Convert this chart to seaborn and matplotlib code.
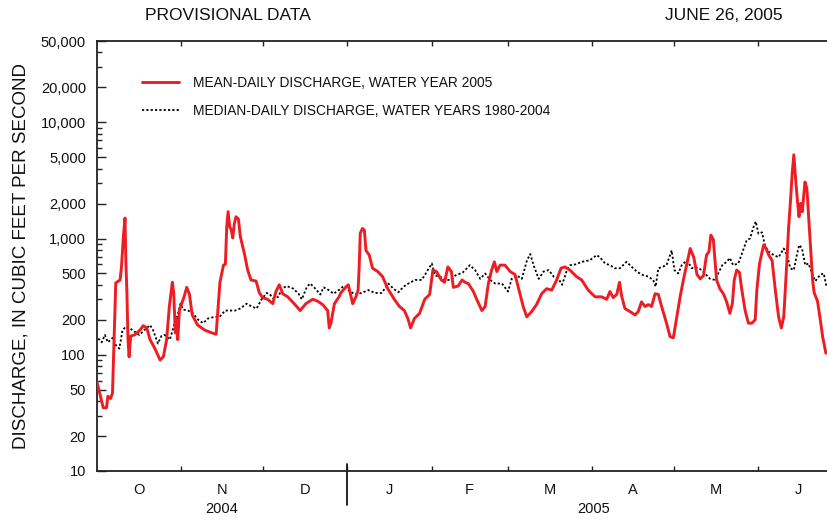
import matplotlib
matplotlib.use("Agg")
import matplotlib.pyplot as plt
import matplotlib.ticker as mticker
from matplotlib.lines import Line2D
import numpy as np
import pandas as pd
import seaborn as sns

# ---------------- data (days after 1 Oct 2004, discharge in cfs) ----------------
red_days = [0, 2.3, 3.5, 4, 5, 5.7, 6.9, 8.5, 9.0, 9.7, 10.3, 10.6, 11.0, 11.4, 11.8, 12.4,
            13.8, 15.8, 17.0, 18.3, 19.5, 21.3, 23.2, 24.4, 25.6, 26.6, 27.7, 28.2, 28.8, 29.1,
            29.7, 30.3, 32.0, 33.0, 34.0, 35.0, 37.0, 39.6, 42.0, 43.8, 45.2, 46.5, 47.2, 47.7,
            48.2, 48.8, 49.4, 49.9, 50.5, 51.1, 52.0, 52.7, 54.2, 55.4, 56.6, 58.5, 59.7, 60.9,
            62.7, 64.6, 65.8, 67.0, 68.3, 70.1, 72.5, 74.7, 76.8, 79.3, 81.0, 83.0, 84.8, 85.4,
            86.0, 87.3, 89.0, 89.6, 91.6, 92.4, 93.4, 94.0, 95.2, 96.0, 96.4, 96.8, 97.6, 98.3,
            98.9, 100.1, 101.3, 103.2, 105.0, 106.9, 109.3, 111.2, 113.0, 114.3, 115.3, 116.7,
            118.6, 120.5, 122.3, 123.5, 124.8, 126.6, 127.8, 129.0, 130.3, 131.0, 132.8, 134.2,
            135.3, 136.5, 138.4, 139.6, 141.5, 142.7, 143.9, 145.1, 146.1, 147.0, 148.2, 150.0,
            151.9, 153.7, 155.5, 156.7, 158.0, 159.8, 161.6, 163.5, 165.3, 167.2, 169.0, 170.6,
            172.0, 173.9, 176.3, 178.2, 180.6, 183.1, 185.5, 187.4, 188.6, 189.8, 191.1, 192.1,
            192.9, 194.1, 196.0, 197.8, 199.0, 200.2, 201.5, 202.7, 203.9, 205.2, 206.4, 207.6,
            209.4, 210.7, 211.9, 213.2, 214.4, 215.6, 216.9, 218.1, 219.4, 220.6, 221.8, 223.0,
            224.1, 225.0, 225.7, 226.6, 227.2, 227.8, 229.0, 230.3, 231.5, 232.7, 233.6, 234.3,
            235.2, 236.2, 237.1, 238.3, 239.5, 240.8, 242.0, 242.6, 243.6, 245.1, 246.0, 247.0,
            248.2, 249.4, 250.6, 251.6, 252.5, 253.4, 254.3, 255.0, 255.6, 256.2, 256.9, 257.5,
            258.1, 258.7, 259.3, 260.3, 261.0, 261.6, 262.4, 263.1, 263.7, 264.9, 265.8, 266.8,
            268.0]
red_vals = [58, 35, 35, 44, 42, 47, 415, 440, 570, 1040, 1500, 650, 340, 135, 96, 145,
            148, 163, 178, 170, 135, 113, 90, 96, 135, 260, 420, 340, 154, 205,
            135, 240, 315, 380, 330, 220, 180, 163, 155, 150, 420, 590, 600, 1260,
            1700, 1260, 1180, 1010, 1340, 1540, 1470, 1040, 740, 535, 440, 430, 340, 310,
            300, 275, 350, 400, 335, 315, 275, 240, 275, 300, 290, 270, 240, 170,
            187, 275, 315, 340, 385, 400, 315, 275, 315, 360, 570, 1110, 1220, 1180,
            790, 720, 555, 520, 470, 370, 300, 260, 240, 205, 170, 205,
            227, 300, 330, 535, 520, 440, 420, 570, 520, 380, 390, 440,
            420, 410, 350, 300, 240, 260, 410, 535, 630, 520, 590, 590,
            520, 490, 335, 260, 212, 235, 270, 335, 370, 360, 440, 555,
            570, 535, 470, 440, 360, 315, 315, 300, 350, 310, 330, 420,
            320, 250, 235, 220, 235, 285, 260, 270, 260, 335, 330, 260,
            187, 143, 140, 212, 315, 440, 610, 820, 690, 490, 450, 480,
            720, 770, 1070, 980, 650, 440, 370, 335, 285, 227, 275, 440,
            535, 510, 360, 240, 187, 187, 200, 360, 610, 880, 820, 720,
            650, 360, 212, 170, 212, 500, 1260, 2150, 3600, 5250, 3150, 2150,
            1540, 2000, 1700, 3060, 2700, 1600, 790, 440, 340, 290, 210, 143,
            103]

med_days = [0.5, 1.7, 2.9, 4.0, 5.8, 7.0, 8.2, 9.4, 10.7, 11.9, 13.8, 15.6, 17.4, 19.5, 20.6,
            22.4, 23.7, 24.9, 26.8, 28.6, 29.8, 30.7, 31.7, 33.5, 35.3, 37.2, 39.0, 40.8, 43.3,
            45.1, 47.1, 50.8, 52.7, 55.0, 56.9, 58.7, 60.5, 62.4, 63.6, 64.8, 66.7, 67.9, 69.8,
            72.2, 74.1, 75.3, 77.2, 78.4, 80.3, 82.1, 83.3, 85.2, 87.0, 88.9, 90.7, 92.4, 94.9,
            97.3, 99.8, 102.2, 104.7, 107.1, 109.0, 110.8, 112.7, 114.5, 117.0, 119.4, 121.3,
            123.1, 124.3, 126.2, 128.0, 129.9, 131.7, 134.5, 137.1, 139.0, 140.9, 142.7, 144.6,
            146.4, 148.9, 151.1, 152.5, 154.4, 156.2, 158.1, 159.3, 160.5, 162.4, 164.2, 166.1,
            167.9, 169.7, 171.0, 172.8, 174.0, 176.1, 178.2, 181.2, 183.7, 184.9, 186.8, 188.6,
            190.4, 192.3, 194.7, 196.6, 198.4, 200.2, 202.7, 204.5, 205.4, 206.4, 207.8, 209.4,
            210.7, 211.3, 212.3, 213.7, 215.0, 216.9, 218.7, 220.6, 222.4, 223.5, 225.4, 227.2,
            228.4, 229.9, 231.5, 232.7, 233.9, 235.8, 237.1, 238.9, 240.1, 241.4, 242.2, 243.2,
            244.5, 245.7, 247.0, 248.8, 250.6, 252.5, 253.7, 254.9, 256.2, 257.4, 258.2, 259.2,
            260.4, 261.6, 262.9, 264.1, 266.0, 267.2, 268.2]
med_vals = [138, 128, 148, 128, 140, 120, 113, 163, 175, 170, 158, 148, 163, 180, 163,
            125, 145, 148, 135, 187, 227, 275, 245, 240, 227, 200, 187, 205, 212,
            212, 240, 240, 250, 275, 260, 250, 300, 340, 330, 305, 315, 370, 390,
            370, 335, 300, 385, 410, 370, 330, 380, 360, 335, 360, 390, 360, 330,
            340, 360, 340, 340, 410, 370, 345, 385, 410, 440, 440, 520,
            610, 480, 470, 440, 440, 480, 510, 590, 535, 450, 500, 440,
            410, 410, 350, 450, 480, 450, 650, 735, 590, 450, 520, 535,
            470, 450, 400, 535, 590, 600, 630, 650, 720, 690, 610, 590,
            555, 555, 630, 570, 520, 490, 470, 440, 385, 555, 570, 590,
            720, 790, 535, 500, 590, 650, 555, 560, 535, 500, 450, 440,
            500, 590, 630, 680, 590, 610, 740, 970, 1000, 1260, 1400, 1100,
            1130, 850, 770, 720, 690, 820, 720, 555, 535, 740, 880, 820,
            590, 610, 500, 430, 490, 500, 385]

month_starts = [0, 31, 61, 92, 123, 151, 182, 212, 243, 273]
month_letters = ["O", "N", "D", "J", "F", "M", "A", "M", "J"]
year_labels = ["2004", "2005"]
y_major = [10, 20, 50, 100, 200, 500, 1000, 2000, 5000, 10000, 20000, 50000]

red_label = "MEAN-DAILY DISCHARGE, WATER YEAR 2005"
med_label = "MEDIAN-DAILY DISCHARGE, WATER YEARS 1980-2004"

# ---------------- style ----------------
sns.set_style("ticks")
plt.rcParams["font.family"] = ["Liberation Sans", "DejaVu Sans"]
TXT = "#111111"

fig = plt.figure(figsize=(8.27, 5.2), dpi=100)
ax = fig.add_axes([97 / 827, 49 / 520, 730 / 827, 430 / 520])

red_df = pd.DataFrame({"day": red_days, "cfs": red_vals})
med_df = pd.DataFrame({"day": med_days, "cfs": med_vals})

sns.lineplot(data=med_df, x="day", y="cfs", ax=ax, color="black", linewidth=1.3,
             linestyle=(0, (1.2, 1.2)), estimator=None, sort=False, label=med_label, zorder=2)
sns.lineplot(data=red_df, x="day", y="cfs", ax=ax, color="#ee1d23", linewidth=2.1,
             estimator=None, sort=False, label=red_label, zorder=3)

ax.set_yscale("log")
ax.set_ylim(10, 50000)
ax.set_xlim(0, 268.4)

# y ticks
ax.yaxis.set_major_locator(mticker.FixedLocator(y_major))
ax.yaxis.set_major_formatter(mticker.FuncFormatter(lambda v, p: f"{v:,.0f}"))
ax.yaxis.set_minor_locator(mticker.LogLocator(base=10, subs=np.arange(2, 10)))
ax.yaxis.set_minor_formatter(mticker.NullFormatter())
ax.tick_params(axis="y", which="major", direction="in", length=6.5, width=1.0,
               labelsize=10.5, pad=8, colors="#222222", labelcolor=TXT)
ax.tick_params(axis="y", which="minor", direction="in", length=3.5, width=1.0,
               colors="#222222")

# x ticks: month boundaries (major), month letters at mid-month (minor)
ax.xaxis.set_major_locator(mticker.FixedLocator(month_starts[1:-1]))
ax.xaxis.set_major_formatter(mticker.NullFormatter())
mids = [(a + b) / 2 for a, b in zip(month_starts[:-1], month_starts[1:])]
ax.xaxis.set_minor_locator(mticker.FixedLocator(mids))
ax.xaxis.set_minor_formatter(mticker.FixedFormatter(month_letters))
ax.tick_params(axis="x", which="major", direction="in", length=3.8, width=1.0,
               top=True, bottom=True, colors="#222222")
ax.tick_params(axis="x", which="minor", length=0, pad=9, labelsize=10.5, labelcolor=TXT)

for side in ["left", "bottom", "top"]:
    ax.spines[side].set_linewidth(1.3)
    ax.spines[side].set_color("#222222")
ax.spines["right"].set_visible(False)
ax.set_xlabel("")
ax.grid(False)

# year separator and year labels
sep = Line2D([month_starts[3], month_starts[3]], [-0.079, 0.016],
             transform=ax.get_xaxis_transform(), color="#111111", lw=1.3, clip_on=False)
ax.add_line(sep)
ax.text((month_starts[0] + month_starts[3]) / 2, -0.088, year_labels[0],
        transform=ax.get_xaxis_transform(), ha="center", va="center", fontsize=10.5, color=TXT)
ax.text((month_starts[3] + month_starts[9]) / 2, -0.088, year_labels[1],
        transform=ax.get_xaxis_transform(), ha="center", va="center", fontsize=10.5, color=TXT)

# y label
ax.set_ylabel("DISCHARGE, IN CUBIC FEET PER SECOND", fontsize=13.5, color=TXT)
ax.yaxis.set_label_coords((30 - 97) / 730, 0.5)

# legend (red first)
handles, labels = ax.get_legend_handles_labels()
order = [labels.index(red_label), labels.index(med_label)]
ax.legend([handles[i] for i in order], [labels[i] for i in order],
          loc="upper left", bbox_to_anchor=(142 / 827, 1 - 76 / 520),
          bbox_transform=fig.transFigure, frameon=False, fontsize=9.9,
          handlelength=2.7, handletextpad=1.0, labelspacing=1.0,
          borderpad=0, borderaxespad=0, labelcolor=TXT)

# header texts
fig.text(145 / 827, 1 - 15 / 520, "PROVISIONAL DATA", ha="left", va="center",
         fontsize=12.5, color=TXT)
fig.text(783 / 827, 1 - 15 / 520, "JUNE 26, 2005", ha="right", va="center",
         fontsize=12.5, color=TXT)

fig.savefig("out.png", dpi=100)
